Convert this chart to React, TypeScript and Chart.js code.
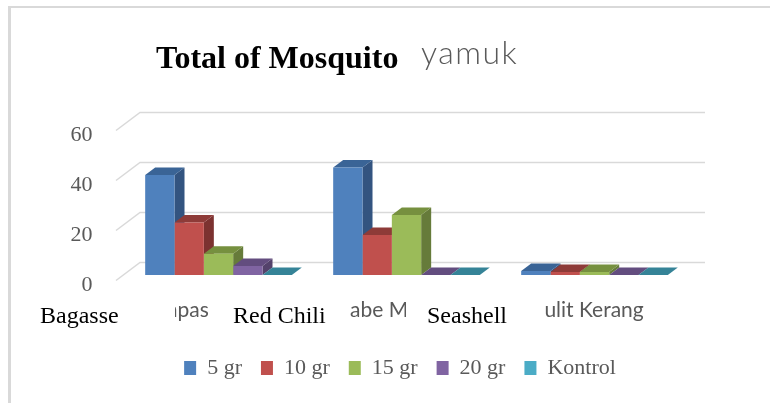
import React, { useEffect, useRef } from "react";
import { Chart, registerables } from "chart.js";

Chart.register(...registerables);

const categories = ["Ampas Tebu", "Cabe Merah", "Kulit Kerang"];
const englishLabels = ["Bagasse", "Red Chili", "Seashell"];
const values5gr = [40, 43, 1.6];
const values10gr = [21, 16, 1.2];
const values15gr = [8.5, 24, 1.2];
const values20gr = [3.6, 0, 0];
const valuesKontrol = [0, 0, 0];
const seriesNames = ["5 gr", "10 gr", "15 gr", "20 gr", "Kontrol"];
const frontColors = ["#4F81BD", "#C0504D", "#9BBB59", "#8064A2", "#4BACC6"];
const topColors = ["#3A6496", "#8E3B38", "#76903F", "#634D7F", "#358397"];
const sideColors = ["#335480", "#7C3230", "#667B3A", "#54426B", "#2F7386"];

const DX = 10;
const DY = 7.5;
const serif = '"Liberation Serif"';

const fragments = [
  { x: 146, clipX: 175, clipW: 37 },
  { x: 336, clipX: 350, clipW: 56 },
  { x: 531, clipX: 545, clipW: 100 },
];
const overlays = [40, 233, 427];

const decor = {
  id: "decor",
  beforeDraw(chart: any) {
    const { ctx } = chart;
    ctx.save();
    ctx.fillStyle = "#fff";
    ctx.fillRect(0, 0, 770, 403);
    ctx.fillStyle = "#d9d9d9";
    ctx.fillRect(8, 6, 3, 397);
    ctx.fillRect(8, 6, 762, 2);
    ctx.restore();
  },
  beforeDatasetsDraw(chart: any) {
    const { ctx, scales } = chart;
    const y = scales.y;
    ctx.save();
    ctx.strokeStyle = "#d9d9d9";
    ctx.lineWidth = 1.5;
    for (const t of y.ticks) {
      const py = y.getPixelForValue(t.value);
      ctx.beginPath();
      ctx.moveTo(116, py + 5.5);
      ctx.lineTo(140, py - 12.5);
      ctx.lineTo(705, py - 12.5);
      ctx.stroke();
    }
    chart.data.datasets.forEach((_: any, i: number) => {
      for (const bar of chart.getDatasetMeta(i).data) {
        const l = bar.x - bar.width / 2;
        const r = bar.x + bar.width / 2;
        const t = bar.y;
        const b = bar.base;
        ctx.fillStyle = sideColors[i];
        ctx.beginPath();
        ctx.moveTo(r, t);
        ctx.lineTo(r + DX, t - DY);
        ctx.lineTo(r + DX, b - DY);
        ctx.lineTo(r, b);
        ctx.closePath();
        ctx.fill();
        ctx.fillStyle = topColors[i];
        ctx.beginPath();
        ctx.moveTo(l, t);
        ctx.lineTo(l + DX, t - DY);
        ctx.lineTo(r + DX, t - DY);
        ctx.lineTo(r, t);
        ctx.closePath();
        ctx.fill();
      }
    });
    ctx.restore();
  },
  afterDraw(chart: any) {
    const { ctx } = chart;
    ctx.save();
    ctx.textBaseline = "alphabetic";
    ctx.textAlign = "left";
    ctx.font = `bold 32px ${serif}`;
    ctx.fillStyle = "#000";
    ctx.fillText("Total of Mosquito", 156, 68);
    ctx.font = "300 32px Lato";
    ctx.fillStyle = "#595959";
    (ctx as any).letterSpacing = "1.5px";
    ctx.fillText("yamuk", 421, 64);
    (ctx as any).letterSpacing = "0px";
    ctx.font = "21px Lato";
    categories.forEach((c, i) => {
      const f = fragments[i];
      ctx.save();
      ctx.beginPath();
      ctx.rect(f.clipX, 290, f.clipW, 40);
      ctx.clip();
      ctx.fillStyle = "#595959";
      ctx.fillText(c, f.x, 317);
      ctx.restore();
    });
    ctx.font = `24px ${serif}`;
    ctx.fillStyle = "#000";
    englishLabels.forEach((c, i) => ctx.fillText(c, overlays[i], 323));
    ctx.restore();
  },
};

export default function App() {
  const ref = useRef<HTMLCanvasElement>(null);
  useEffect(() => {
    const allValues = [values5gr, values10gr, values15gr, values20gr, valuesKontrol];
    const chart = new Chart(ref.current!, {
      type: "bar",
      data: {
        labels: categories,
        datasets: seriesNames.map((name, i) => ({
          label: name,
          data: allValues[i],
          backgroundColor: frontColors[i],
          borderWidth: 0,
          barPercentage: 1,
          categoryPercentage: 0.78,
          yAxisID: "y",
        })),
      },
      options: {
        responsive: false,
        animation: false,
        layout: { padding: { left: 30, right: 0, top: 125, bottom: 14 } },
        plugins: {
          title: { display: false },
          tooltip: { enabled: false },
          legend: {
            position: "bottom",
            labels: {
              boxWidth: 12,
              boxHeight: 14,
              padding: 19,
              color: "#595959",
              font: { family: serif, size: 22 },
            },
          },
        },
        scales: {
          x: {
            grid: { display: false },
            border: { display: false },
            ticks: { display: false },
            afterFit(s: any) {
              s.height = 63;
            },
          },
          y: {
            min: 0,
            max: 60,
            grid: { display: false },
            border: { display: false },
            afterFit(s: any) {
              s.width = 94.5;
            },
            ticks: {
              stepSize: 20,
              padding: 24,
              color: "#595959",
              font: { family: serif, size: 22, lineHeight: "20px" },
              callback: (v: any) => ["", String(v)],
            },
          },
          yRight: {
            position: "right",
            grid: { display: false },
            border: { display: false },
            ticks: { display: false },
            afterFit(s: any) {
              s.width = 81.5;
            },
          },
        },
      },
      plugins: [decor],
    } as any);
    return () => chart.destroy();
  }, []);
  return (
    <canvas
      ref={ref}
      width={770}
      height={403}
      style={{ position: "absolute", left: 0, top: 0, width: 770, height: 403 }}
    />
  );
}
